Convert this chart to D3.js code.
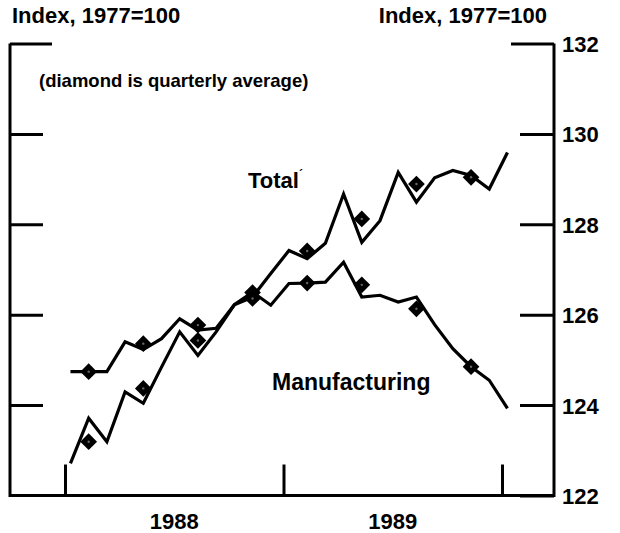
<html lang="en">
<head>
<meta charset="UTF-8">
<title>Industrial Production Index</title>
<script src="https://d3js.org/d3.v7.min.js"></script>
<style>
  body {
    margin: 0;
    background-color: #ffffff;
  }
  text {
    font-family: "Liberation Sans", Arial, Helvetica, sans-serif;
    font-weight: bold;
    fill: #000;
  }
</style>
</head>
<body>
<div id="chart"></div>

<script>
// Monthly values, Jan 1988 - Jan 1990 (index, 1977=100)
const months = d3.range(25); // 0 = Jan 1988
const total = [124.74, 124.74, 124.74, 125.40, 125.23, 125.47, 125.91, 125.66, 125.70,
  126.22, 126.39, 126.91, 127.42, 127.24, 127.58, 128.67, 127.60, 128.08, 129.15,
  128.49, 129.03, 129.19, 129.08, 128.78, 129.59];
const manufacturing = [122.71, 123.71, 123.19, 124.29, 124.04, 124.84, 125.62, 125.10, 125.62,
  126.22, 126.50, 126.21, 126.69, 126.70, 126.72, 127.16, 126.39, 126.43, 126.28,
  126.39, 125.78, 125.25, 124.85, 124.55, 123.93];

// Quarterly averages (diamonds), placed at the middle month of each quarter
const quarterMonths = [1, 4, 7, 10, 13, 16, 19, 22];
const totalQuarterly = [124.74, 125.36, 125.77, 126.49, 127.41, 128.12, 128.89, 129.04];
const manufacturingQuarterly = [123.19, 124.37, 125.43, 126.36, 126.70, 126.66, 126.13, 124.85];

// Axis ticks and labels
const yTicks = [122, 124, 126, 128, 130, 132];
const yearTicks = [0, 12, 24];
const years = ["1988", "1989"];

const svgWidth = 620;
const svgHeight = 533;
const frame = { left: 10, right: 554, top: 43.5, bottom: 495.5 };

const svg = d3.select("#chart")
  .append("svg")
  .attr("width", svgWidth)
  .attr("height", svgHeight);

// Scales: x in months since Jan 1 1988
const x = d3.scaleLinear()
  .domain([0, 24])
  .range([65, 502]);

const y = d3.scaleLinear()
  .domain([122, 132])
  .range([frame.bottom, frame.top]);

const xm = m => x(m + 0.3);

// Frame (left, bottom, right)
svg.append("path")
  .attr("d", `M${frame.left},${frame.top}V${frame.bottom}H${frame.right}V${frame.top}`)
  .attr("fill", "none")
  .attr("stroke", "#000")
  .attr("stroke-width", 3);

// Left ticks, pointing inward
const leftAxis = svg.append("g")
  .attr("transform", `translate(${frame.left},0)`)
  .call(d3.axisRight(y).tickValues(yTicks.slice(1)).tickSize(33).tickFormat(""));

// Right ticks with labels outside
const rightAxis = svg.append("g")
  .attr("transform", `translate(${frame.right},0)`)
  .call(d3.axisRight(y).tickValues(yTicks).tickSizeInner(-34).tickSizeOuter(0).tickPadding(8));

rightAxis.selectAll("text")
  .attr("font-size", 22)
  .attr("font-family", null)
  .attr("dy", "0.36em");

// Bottom ticks at year boundaries
const bottomAxis = svg.append("g")
  .attr("transform", `translate(0,${frame.bottom})`)
  .call(d3.axisBottom(x).tickValues(yearTicks).tickSizeInner(-31).tickSizeOuter(0).tickFormat(""));

[leftAxis, rightAxis, bottomAxis].forEach(g => {
  g.select(".domain").remove();
  g.selectAll(".tick line").attr("stroke", "#000").attr("stroke-width", 3);
});

// Top ticks are a bit longer
leftAxis.selectAll(".tick").filter(d => d === 132).select("line").attr("x2", 42);
rightAxis.selectAll(".tick").filter(d => d === 132).select("line").attr("x2", -43);

// Year labels, centred in each year
svg.selectAll(".year")
  .data(years)
  .enter().append("text")
  .attr("class", "year")
  .attr("x", (d, i) => x(i * 12 + 6))
  .attr("y", 529)
  .attr("text-anchor", "middle")
  .attr("font-size", 22)
  .text(d => d);

// Lines
const line = d3.line()
  .x((d, i) => xm(months[i]))
  .y(d => y(d));

[total, manufacturing].forEach(series => {
  svg.append("path")
    .datum(series)
    .attr("d", line)
    .attr("fill", "none")
    .attr("stroke", "#000")
    .attr("stroke-width", 3.2)
    .attr("stroke-linejoin", "miter");
});

// Diamonds
const square = d3.symbol().type(d3.symbolSquare).size(140);

[totalQuarterly, manufacturingQuarterly].forEach(series => {
  const g = svg.append("g");
  g.selectAll("path")
    .data(series)
    .enter().append("path")
    .attr("d", square)
    .attr("transform", (d, i) => `translate(${xm(quarterMonths[i])},${y(d)}) rotate(45)`)
    .attr("fill", "#000");
  g.selectAll("circle")
    .data(series)
    .enter().append("circle")
    .attr("cx", (d, i) => xm(quarterMonths[i]))
    .attr("cy", d => y(d))
    .attr("r", 1.2)
    .attr("fill", "#666");
});

// Titles and labels
svg.append("text")
  .attr("x", 12)
  .attr("y", 23)
  .attr("font-size", 22)
  .text("Index, 1977=100");

svg.append("text")
  .attr("x", 547)
  .attr("y", 23)
  .attr("text-anchor", "end")
  .attr("font-size", 22)
  .text("Index, 1977=100");

svg.append("text")
  .attr("x", 39)
  .attr("y", 87)
  .attr("font-size", 18.5)
  .text("(diamond is quarterly average)");

const totalLabel = svg.append("text")
  .attr("x", 248)
  .attr("y", 188)
  .attr("font-size", 22)
  .text("Total");
totalLabel.append("tspan")
  .attr("font-size", 12)
  .attr("dy", -9)
  .text("´");

svg.append("text")
  .attr("x", 272)
  .attr("y", 390)
  .attr("font-size", 23)
  .text("Manufacturing");
</script>
</body>
</html>
